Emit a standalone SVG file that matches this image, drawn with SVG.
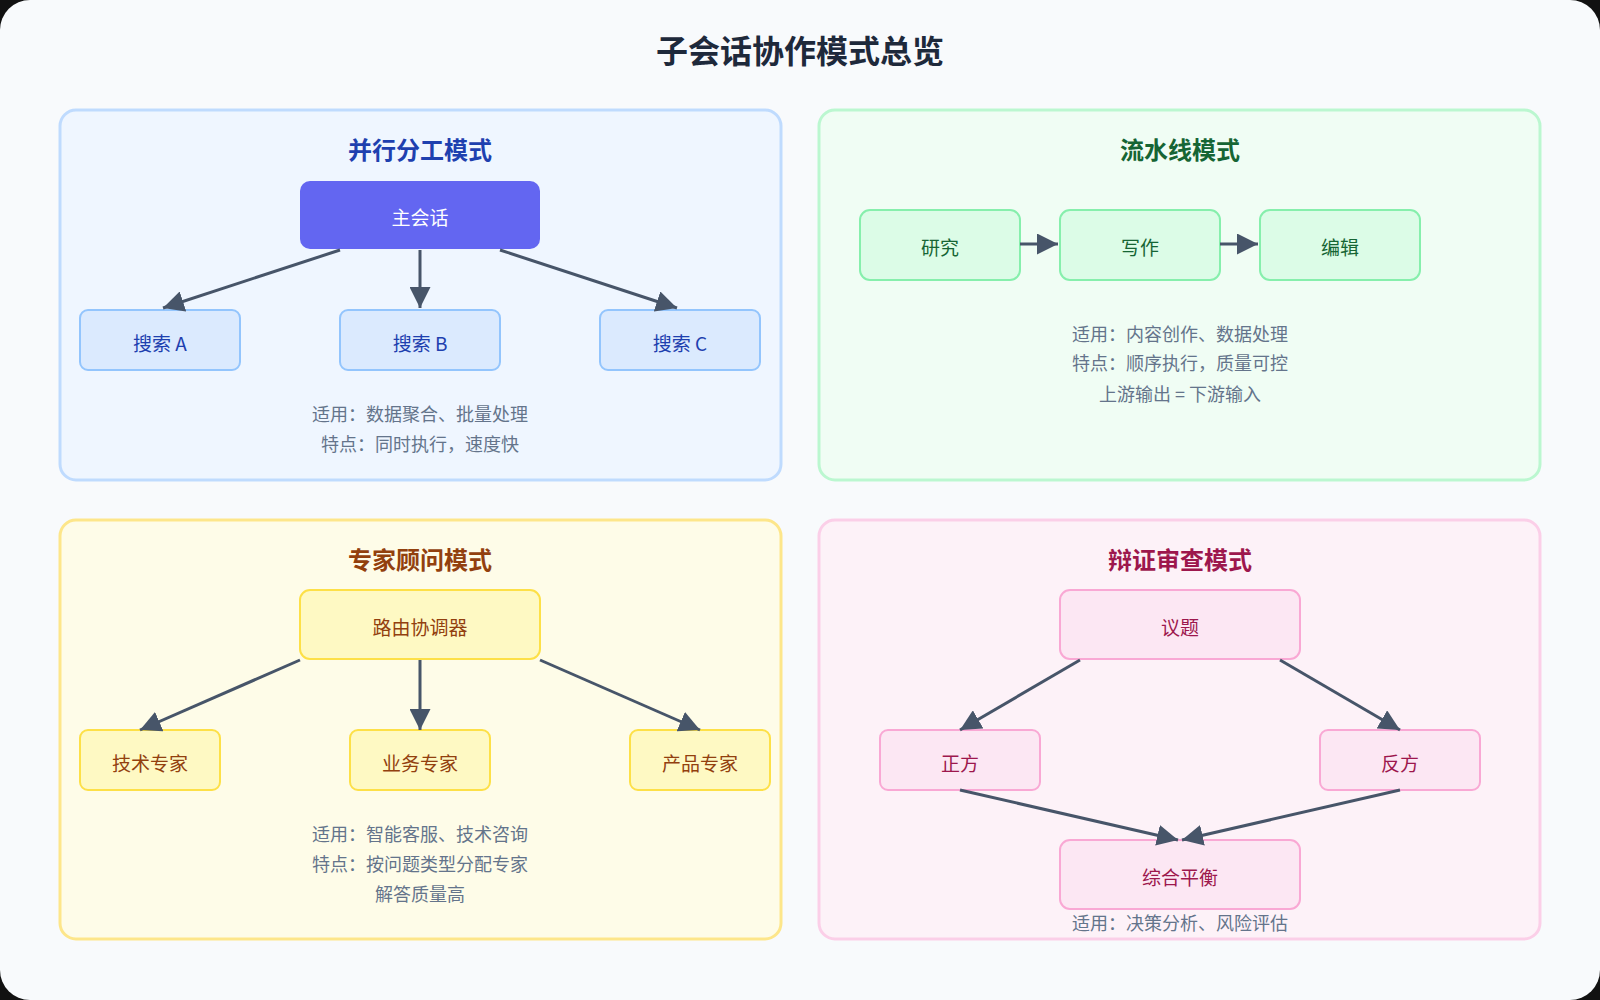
<svg xmlns="http://www.w3.org/2000/svg" width="1600" height="1000" viewBox="0 0 1600 1000">
<defs>
<marker id="ah" viewBox="0 0 10 10" refX="10" refY="5" markerWidth="7" markerHeight="7" markerUnits="strokeWidth" orient="auto"><path d="M0,0 L10,5 L0,10 z" fill="#475569"/></marker>
<style>
text{font-family:"Noto Sans CJK SC","Liberation Sans",sans-serif;text-anchor:middle;dominant-baseline:central}
.pt{font-size:24px;font-weight:bold}
.n{font-size:19px}
.d{font-size:18px;fill:#64748b}
.c line{stroke:#475569;stroke-width:3;marker-end:url(#ah)}
.b1{fill:#dbeafe;stroke:#93c5fd;stroke-width:2}
.b2{fill:#dcfce7;stroke:#86efac;stroke-width:2}
.b3{fill:#fef9c3;stroke:#fde047;stroke-width:2}
.b4{fill:#fce7f3;stroke:#f9a8d4;stroke-width:2}
</style>
</defs>
<rect width="1600" height="1000" fill="#111"/>
<rect width="1600" height="1000" rx="30" fill="#f8fafc"/>
<text x="800" y="49" font-size="32" font-weight="bold" fill="#1e293b">子会话协作模式总览</text>

<g id="panel1">
<rect x="60" y="110" width="721" height="370" rx="16" fill="#eff6ff" stroke="#bfdbfe" stroke-width="3"/>
<text class="pt" x="420" y="148" fill="#1e40af">并行分工模式</text>
<text class="d" x="420" y="413">适用：数据聚合、批量处理</text>
<text class="d" x="420" y="443">特点：同时执行，速度快</text>
</g>
<g id="main"><rect x="300" y="181" width="240" height="68" rx="10" fill="#6366f1"/><text class="n" x="420" y="216" fill="#fff">主会话</text></g>
<g id="searchA"><rect class="b1" x="80" y="310" width="160" height="60" rx="8"/><text class="n" x="160" y="342" fill="#1e40af">搜索 A</text></g>
<g id="searchB"><rect class="b1" x="340" y="310" width="160" height="60" rx="8"/><text class="n" x="420" y="342" fill="#1e40af">搜索 B</text></g>
<g id="searchC"><rect class="b1" x="600" y="310" width="160" height="60" rx="8"/><text class="n" x="680" y="342" fill="#1e40af">搜索 C</text></g>

<g id="panel2">
<rect x="819" y="110" width="721" height="370" rx="16" fill="#f0fdf4" stroke="#bbf7d0" stroke-width="3"/>
<text class="pt" x="1180" y="148" fill="#166534">流水线模式</text>
<text class="d" x="1180" y="333">适用：内容创作、数据处理</text>
<text class="d" x="1180" y="362">特点：顺序执行，质量可控</text>
<text class="d" x="1180" y="393">上游输出 = 下游输入</text>
</g>
<g id="research"><rect class="b2" x="860" y="210" width="160" height="70" rx="10"/><text class="n" x="940" y="246" fill="#166534">研究</text></g>
<g id="write"><rect class="b2" x="1060" y="210" width="160" height="70" rx="10"/><text class="n" x="1140" y="246" fill="#166534">写作</text></g>
<g id="edit"><rect class="b2" x="1260" y="210" width="160" height="70" rx="10"/><text class="n" x="1340" y="246" fill="#166534">编辑</text></g>

<g id="panel3">
<rect x="60" y="520" width="721" height="419" rx="16" fill="#fefce8" stroke="#fde68a" stroke-width="3"/>
<text class="pt" x="420" y="558" fill="#92400e">专家顾问模式</text>
<text class="d" x="420" y="833">适用：智能客服、技术咨询</text>
<text class="d" x="420" y="863">特点：按问题类型分配专家</text>
<text class="d" x="420" y="893">解答质量高</text>
</g>
<g id="router"><rect class="b3" x="300" y="590" width="240" height="69" rx="10"/><text class="n" x="420" y="626" fill="#92400e">路由协调器</text></g>
<g id="tech"><rect class="b3" x="80" y="730" width="140" height="60" rx="8"/><text class="n" x="150" y="762" fill="#92400e">技术专家</text></g>
<g id="biz"><rect class="b3" x="350" y="730" width="140" height="60" rx="8"/><text class="n" x="420" y="762" fill="#92400e">业务专家</text></g>
<g id="prod"><rect class="b3" x="630" y="730" width="140" height="60" rx="8"/><text class="n" x="700" y="762" fill="#92400e">产品专家</text></g>

<g id="panel4">
<rect x="819" y="520" width="721" height="419" rx="16" fill="#fdf2f8" stroke="#fbcfe8" stroke-width="3"/>
<text class="pt" x="1180" y="558" fill="#9d174d">辩证审查模式</text>
<text class="d" x="1180" y="922">适用：决策分析、风险评估</text>
</g>
<g id="topic"><rect class="b4" x="1060" y="590" width="240" height="69" rx="10"/><text class="n" x="1180" y="626" fill="#9d174d">议题</text></g>
<g id="pro"><rect class="b4" x="880" y="730" width="160" height="60" rx="8"/><text class="n" x="960" y="762" fill="#9d174d">正方</text></g>
<g id="con"><rect class="b4" x="1320" y="730" width="160" height="60" rx="8"/><text class="n" x="1400" y="762" fill="#9d174d">反方</text></g>
<g id="synth"><rect class="b4" x="1060" y="840" width="240" height="69" rx="10"/><text class="n" x="1180" y="876" fill="#9d174d">综合平衡</text></g>

<g id="connectors" class="c">
<line x1="340" y1="250" x2="163" y2="308"/>
<line x1="420" y1="250" x2="420" y2="308"/>
<line x1="500" y1="250" x2="677" y2="308"/>
<line x1="1020" y1="244" x2="1058" y2="244"/>
<line x1="1220" y1="244" x2="1258" y2="244"/>
<line x1="300" y1="660" x2="140" y2="730"/>
<line x1="420" y1="660" x2="420" y2="730"/>
<line x1="540" y1="660" x2="700" y2="730"/>
<line x1="1080" y1="660" x2="960" y2="730"/>
<line x1="1280" y1="660" x2="1400" y2="730"/>
<line x1="960" y1="790" x2="1178" y2="840"/>
<line x1="1400" y1="790" x2="1182" y2="840"/>
</g>
</svg>
